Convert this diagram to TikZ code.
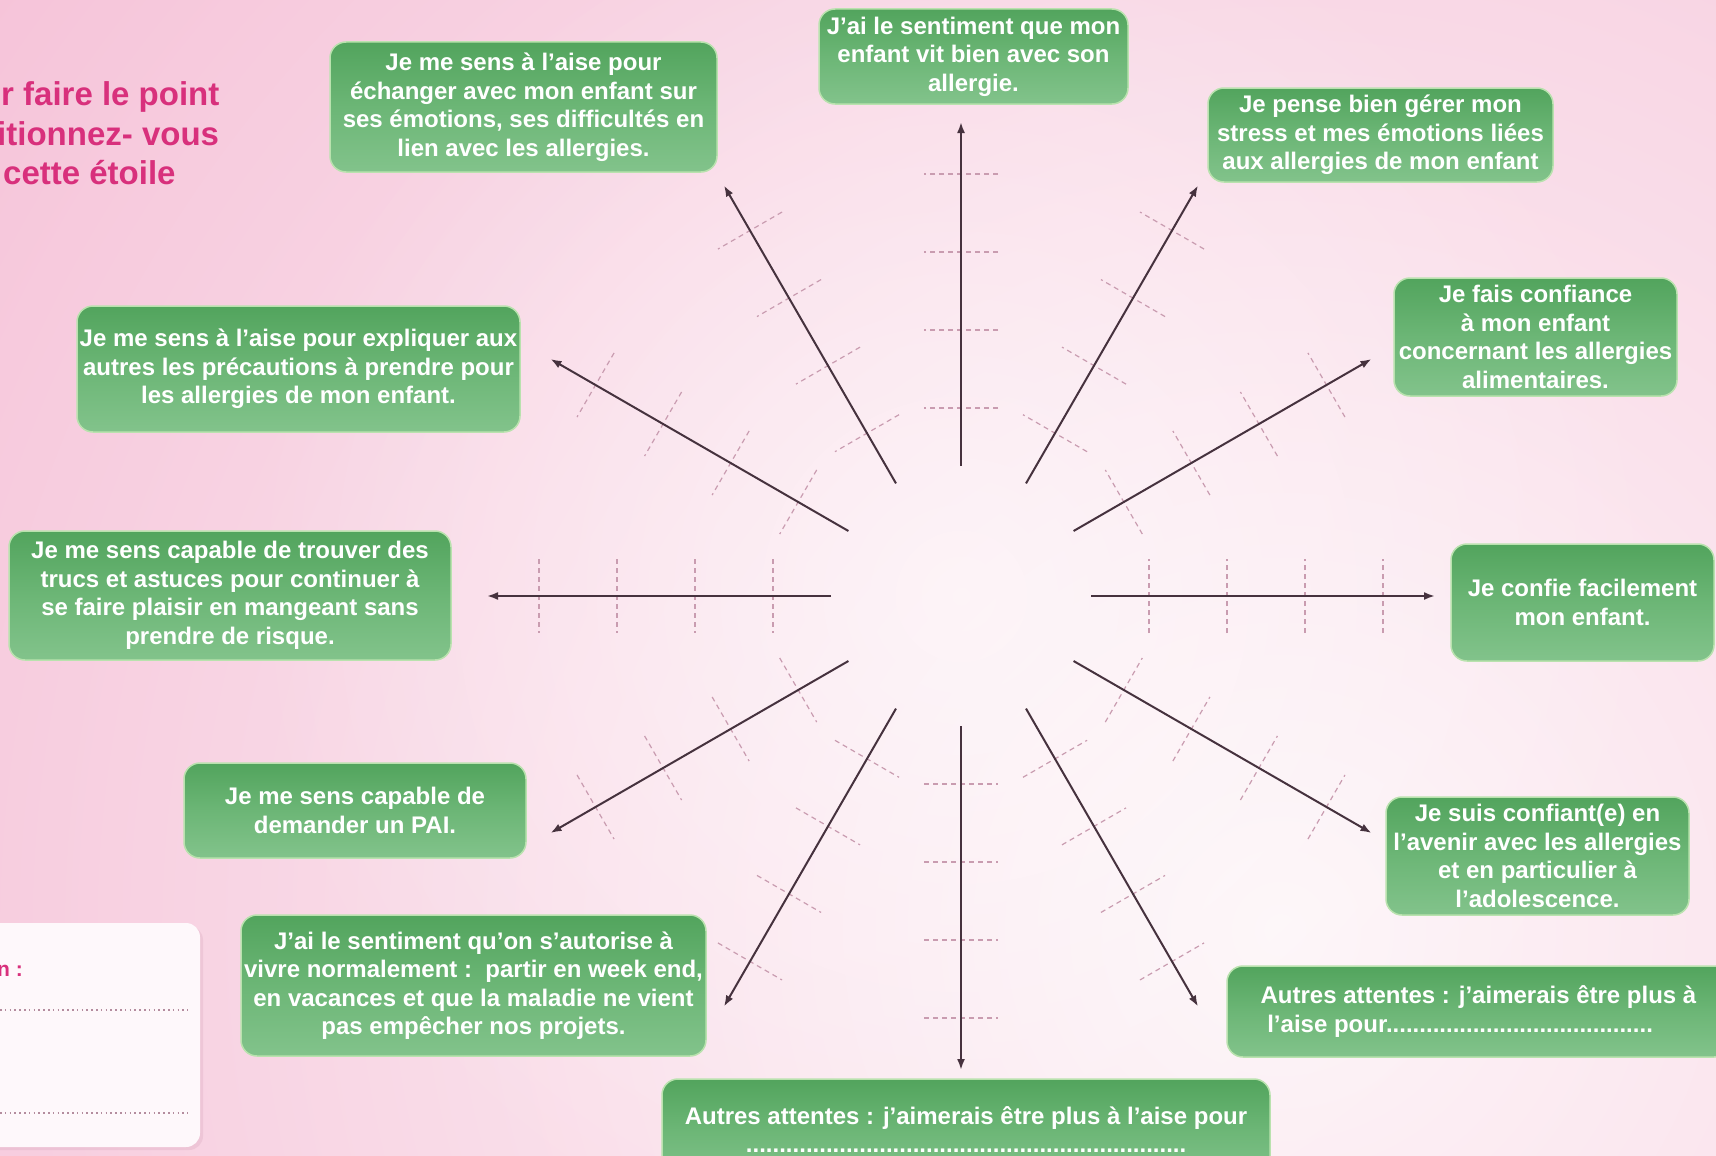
\documentclass[tikz,border=0pt]{standalone}
\usepackage{fontspec}
\setmainfont{Liberation Sans}
\usetikzlibrary{arrows.meta,calc,fadings}
\definecolor{bgpink}{HTML}{F5BFD6}
\definecolor{bglight}{HTML}{FDF5F8}
\definecolor{gtop}{HTML}{52A45D}
\definecolor{gmid}{HTML}{6CB676}
\definecolor{gbot}{HTML}{82C38B}
\definecolor{gedge}{HTML}{B9E2AE}
\definecolor{arrowc}{HTML}{46323E}
\definecolor{tickc}{HTML}{C99CB0}
\definecolor{titlec}{HTML}{D8307C}
\definecolor{dotc}{HTML}{B48C9E}
\definecolor{wboxc}{HTML}{FEF8FB}
\tikzfading[name=glowfade, inner color=transparent!45, outer color=transparent!100]
\tikzset{
  gbox/.style={rounded corners=16pt, top color=gtop, bottom color=gbot, middle color=gmid,
    draw=gedge, line width=1.5pt, text=white, align=center, inner sep=0pt,
    font=\bfseries\fontsize{24}{28.5}\selectfont},
  arr/.style={draw=arrowc, line width=2pt, -{Latex[length=11pt,width=8pt]}},
  tickl/.style={draw=tickc, line width=1.2pt, dash pattern=on 5pt off 4pt},
  titletext/.style={text=titlec, anchor=base west, inner sep=0pt,
    font=\bfseries\fontsize{33}{38}\selectfont},
  dotl/.style={draw=dotc, line width=1.6pt, dash pattern=on 1.6pt off 3.2pt},
}
\begin{document}
\begin{tikzpicture}[x=1pt,y=-1pt]
\useasboundingbox (0,0) rectangle (1716,1156);
\begin{scope}
\clip (0,0) rectangle (1716,1156);
\fill[bgpink] (0,0) rectangle (1716,1156);
\shade[inner color=bglight, outer color=bgpink] (1280,930) circle (1750);
\fill[white, path fading=glowfade] (961,596) circle (720);

% title
\node[titletext] (t1) at (1,106) {r faire le point};
\node[titletext] (t2) at (-3,145) {itionnez- vous};
\node[titletext] (t3) at (3,184) {cette étoile};

% white box bottom-left
\fill[black!10!bgpink, opacity=0.35, rounded corners=14pt] (-20,926) rectangle (203,1150);
\node[fill=wboxc, rounded corners=14pt, minimum width=222pt, minimum height=224pt, inner sep=0pt] (wb) at (89,1035) {};
\node[text=titlec, anchor=base west, inner sep=0pt, font=\bfseries\fontsize{21}{24}\selectfont] (wn) at (-3,976) {n :};
\draw[dotl] (0,1010) -- (188,1010);
\draw[dotl] (0,1113) -- (188,1113);

% star
\coordinate (c) at (961,596);
\foreach \a in {0,30,...,330} {
  \foreach \d in {188,266,344,422} {
    \draw[tickl] ($(c)+(\a:\d)+(\a+90:37)$) -- ($(c)+(\a:\d)+(\a-90:37)$);
  }
}
\foreach \a in {0,30,...,330} {
  \coordinate (s\a) at ($(c)+(\a:130)$);
  \coordinate (e\a) at ($(c)+(\a:474)$);
  \draw[arr] (s\a) -- (e\a);
}

% boxes
\node[gbox, minimum width=309pt, minimum height=95pt] (bA) at (973.5,56.5)
  {J’ai le sentiment que mon\\enfant vit bien avec son\\allergie.};
\node[gbox, minimum width=345pt, minimum height=94pt] (bB) at (1380.5,135)
  {Je pense bien gérer mon\\stress et mes émotions liées\\aux allergies de mon enfant};
\node[gbox, minimum width=283pt, minimum height=118pt] (bC) at (1535.5,337)
  {Je fais confiance\\à mon enfant\\concernant les allergies\\alimentaires.};
\node[gbox, minimum width=263pt, minimum height=117pt] (bD) at (1582.5,602.5)
  {Je confie facilement\\mon enfant.};
\node[gbox, minimum width=303pt, minimum height=118pt] (bE) at (1537.5,856)
  {Je suis confiant(e) en\\l’avenir avec les allergies\\et en particulier à\\l’adolescence.};
\node[gbox, align=left, minimum width=503pt, minimum height=91pt] (bF) at (1478.5,1011.5)
  {Autres attentes : j’aimerais être plus à\\\ l’aise pour........................................};
\node[gbox, minimum width=608pt, minimum height=101pt] (bG) at (966,1129.5)
  {Autres attentes : j’aimerais être plus à l’aise pour\\..................................................................};
\node[gbox, minimum width=465pt, minimum height=141pt] (bH) at (473.5,985.5)
  {J’ai le sentiment qu’on s’autorise à\\vivre normalement :~~partir en week end,\\en vacances et que la maladie ne vient\\pas empêcher nos projets.};
\node[gbox, minimum width=342pt, minimum height=95pt] (bI) at (355,810.5)
  {Je me sens capable de\\demander un PAI.};
\node[gbox, minimum width=442pt, minimum height=129pt] (bJ) at (230,595.5)
  {Je me sens capable de trouver des\\trucs et astuces pour continuer à\\se faire plaisir en mangeant sans\\prendre de risque.};
\node[gbox, minimum width=443pt, minimum height=126pt] (bK) at (298.5,369)
  {Je me sens à l’aise pour expliquer aux\\autres les précautions à prendre pour\\les allergies de mon enfant.};
\node[gbox, minimum width=387pt, minimum height=130pt] (bL) at (523.5,107)
  {Je me sens à l’aise pour\\échanger avec mon enfant sur\\ses émotions, ses difficultés en\\lien avec les allergies.};
\end{scope}
\end{tikzpicture}
\end{document}
